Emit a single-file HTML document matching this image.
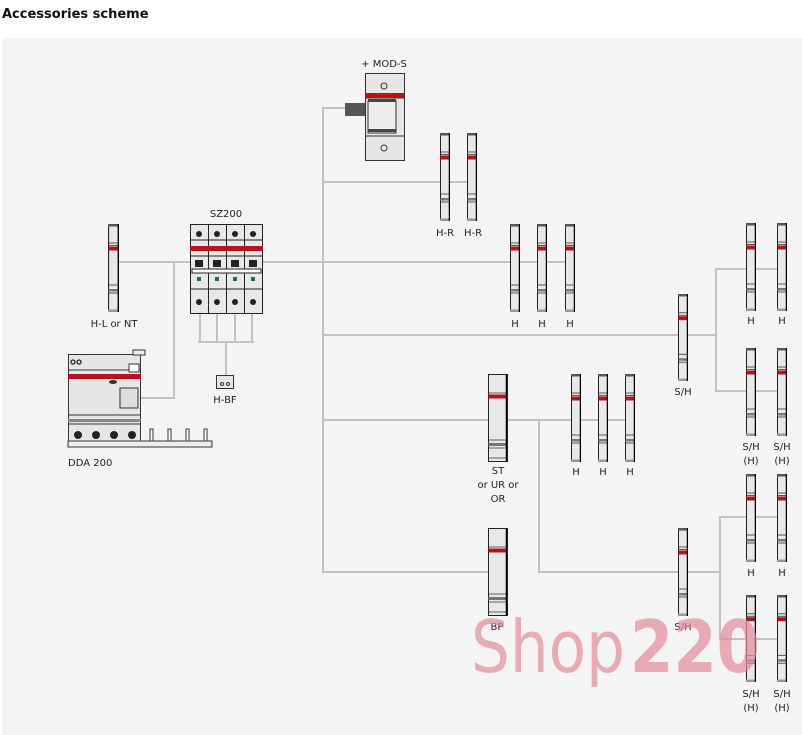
<!DOCTYPE html>
<html><head><meta charset="utf-8"><style>
html,body{margin:0;padding:0;background:#fff;width:802px;height:735px;overflow:hidden}
svg{display:block}
text{font-family:"DejaVu Sans","Liberation Sans",sans-serif;font-size:10px;fill:#222}
</style></head><body>
<svg width="802" height="735" viewBox="0 0 802 735">
<defs>
<symbol id="m" viewBox="0 0 10 88" preserveAspectRatio="none">
<rect x="0.5" y="0.5" width="9" height="87" fill="#e8e8e8" stroke="#222" stroke-width="1"/>
<rect x="0" y="0" width="10" height="2.5" fill="#555"/>
<rect x="0" y="85.5" width="10" height="2.5" fill="#999"/>
<line x1="0" y1="19" x2="10" y2="19" stroke="#333" stroke-width="0.8"/>
<line x1="0" y1="21.5" x2="10" y2="21.5" stroke="#333" stroke-width="0.8"/>
<rect x="0.5" y="22.5" width="9" height="4" fill="#b5121b"/>
<line x1="0" y1="61" x2="10" y2="61" stroke="#333" stroke-width="0.8"/>
<rect x="0.5" y="65" width="9" height="2.5" fill="#777"/>
<line x1="0" y1="69" x2="10" y2="69" stroke="#333" stroke-width="0.8"/>
<line x1="9.5" y1="0" x2="9.5" y2="88" stroke="#000" stroke-width="1.5"/>
</symbol>
<symbol id="w" viewBox="0 0 20 88" preserveAspectRatio="none">
<rect x="0.5" y="0.5" width="19" height="87" fill="#e8e8e8" stroke="#222" stroke-width="1"/>
<line x1="0" y1="19" x2="20" y2="19" stroke="#333" stroke-width="0.8"/>
<rect x="0.5" y="20.5" width="19" height="4" fill="#b5121b"/>
<line x1="0" y1="66" x2="20" y2="66" stroke="#333" stroke-width="0.8"/>
<rect x="0.5" y="69" width="19" height="3" fill="#777"/>
<line x1="0" y1="74" x2="20" y2="74" stroke="#333" stroke-width="0.8"/>
<line x1="0" y1="84" x2="20" y2="84" stroke="#333" stroke-width="0.8"/>
<line x1="18.5" y1="0" x2="18.5" y2="88" stroke="#000" stroke-width="1.5"/>
</symbol>
</defs>
<text x="2" y="18" style="font-family:'DejaVu Sans',sans-serif;font-size:13px;font-weight:bold;fill:#111">Accessories scheme</text>
<rect x="2" y="38" width="800" height="697" fill="#f4f4f4"/>

<g stroke="#c2c2c2" stroke-width="2" fill="none">
<polyline points="345,108 323,108 323,572 490,572"/>
<line x1="323" y1="182" x2="470" y2="182"/>
<line x1="118" y1="262" x2="575" y2="262"/>
<polyline points="174,262 174,398 141,398"/>
<line x1="323" y1="335" x2="716" y2="335"/>
<polyline points="785,269 716,269 716,391 785,391"/>
<line x1="323" y1="420" x2="635" y2="420"/>
<polyline points="539,420 539,572 720,572"/>
<polyline points="785,517 720,517 720,639 785,639"/>
<line x1="200" y1="313" x2="200" y2="342"/>
<line x1="217" y1="313" x2="217" y2="342"/>
<line x1="235" y1="313" x2="235" y2="342"/>
<line x1="252" y1="313" x2="252" y2="342"/>
<line x1="198" y1="342" x2="254" y2="342"/>
<line x1="226" y1="342" x2="226" y2="376"/>
</g>

<!-- modules -->
<use href="#m" x="108" y="224" width="11" height="88"/>
<use href="#m" x="440" y="133" width="10" height="88"/>
<use href="#m" x="467" y="133" width="10" height="88"/>
<use href="#m" x="510" y="224" width="10" height="88"/>
<use href="#m" x="537" y="224" width="10" height="88"/>
<use href="#m" x="565" y="224" width="10" height="88"/>
<use href="#m" x="746" y="223" width="10" height="88"/>
<use href="#m" x="777" y="223" width="10" height="88"/>
<use href="#m" x="678" y="294" width="10" height="87"/>
<use href="#m" x="746" y="348" width="10" height="88"/>
<use href="#m" x="777" y="348" width="10" height="88"/>
<use href="#m" x="571" y="374" width="10" height="88"/>
<use href="#m" x="598" y="374" width="10" height="88"/>
<use href="#m" x="625" y="374" width="10" height="88"/>
<use href="#w" x="488" y="374" width="20" height="88"/>
<use href="#w" x="488" y="528" width="20" height="88"/>
<use href="#m" x="678" y="528" width="10" height="88"/>
<use href="#m" x="746" y="474" width="10" height="88"/>
<use href="#m" x="777" y="474" width="10" height="88"/>
<use href="#m" x="746" y="595" width="10" height="87"/>
<use href="#m" x="777" y="595" width="10" height="87"/>

<!-- MOD-S -->
<rect x="345" y="103" width="20" height="13" fill="#555"/>
<rect x="365.5" y="73.5" width="39" height="87" fill="#e6e6e6" stroke="#333"/>
<line x1="365" y1="98" x2="405" y2="98" stroke="#333"/>
<line x1="365" y1="136" x2="405" y2="136" stroke="#333"/>
<rect x="365.5" y="93" width="39" height="5" fill="#b5121b"/>
<rect x="368" y="101" width="28" height="32" fill="#eee" stroke="#333"/>
<rect x="368" y="99" width="28" height="3" fill="#444"/>
<rect x="368" y="129" width="28" height="3" fill="#444"/>
<circle cx="384" cy="86" r="3" fill="none" stroke="#333"/>
<circle cx="384" cy="148" r="3" fill="none" stroke="#333"/>

<!-- SZ200 -->
<g stroke="#222" stroke-width="1">
<rect x="190.5" y="224.5" width="72" height="89" fill="#e8e8e8"/>
<line x1="208.5" y1="224" x2="208.5" y2="313"/><line x1="226.5" y1="224" x2="226.5" y2="313"/><line x1="244.5" y1="224" x2="244.5" y2="313"/>
<line x1="190" y1="240" x2="263" y2="240"/>
<line x1="190" y1="256" x2="263" y2="256"/>
<line x1="190" y1="289" x2="263" y2="289"/>
<rect x="192" y="269" width="69" height="4" fill="#fff"/>
</g>
<rect x="190" y="246" width="73" height="5" fill="#b5121b"/>
<g fill="#222">
<circle cx="199" cy="234" r="3"/><circle cx="217" cy="234" r="3"/><circle cx="235" cy="234" r="3"/><circle cx="253" cy="234" r="3"/>
<circle cx="199" cy="302" r="3"/><circle cx="217" cy="302" r="3"/><circle cx="235" cy="302" r="3"/><circle cx="253" cy="302" r="3"/>
<rect x="195" y="260" width="8" height="7"/><rect x="213" y="260" width="8" height="7"/><rect x="231" y="260" width="8" height="7"/><rect x="249" y="260" width="8" height="7"/>
</g>
<g fill="#2e6b3a"><rect x="197" y="277" width="4" height="4"/><rect x="215" y="277" width="4" height="4"/><rect x="233" y="277" width="4" height="4"/><rect x="251" y="277" width="4" height="4"/></g>

<!-- H-BF -->
<rect x="216.5" y="375.5" width="17" height="13" fill="#e6e6e6" stroke="#333"/>
<circle cx="222" cy="384" r="1.5" fill="none" stroke="#333"/><circle cx="228" cy="384" r="1.5" fill="none" stroke="#333"/>

<!-- DDA 200 -->
<rect x="68.5" y="354.5" width="72" height="87" fill="#e6e6e6" stroke="#333"/>
<rect x="68" y="441" width="144" height="6" fill="#eee" stroke="#333"/>
<rect x="68" y="374" width="73" height="5" fill="#b5121b"/>
<line x1="68" y1="370" x2="141" y2="370" stroke="#333"/>
<line x1="68" y1="415" x2="141" y2="415" stroke="#333"/>
<rect x="68" y="419" width="73" height="3" fill="#888"/>
<line x1="68" y1="424" x2="141" y2="424" stroke="#333"/>
<rect x="129" y="364" width="10" height="8" fill="#fff" stroke="#333"/>
<rect x="120" y="388" width="18" height="20" fill="#ddd" stroke="#333"/>
<rect x="133" y="350" width="12" height="5" fill="#eee" stroke="#333"/>
<circle cx="73" cy="362" r="2" fill="none" stroke="#222" stroke-width="1.3"/><circle cx="79" cy="362" r="2" fill="none" stroke="#222" stroke-width="1.3"/>
<ellipse cx="113" cy="382" rx="4" ry="2" fill="#333"/>
<g fill="#222"><circle cx="78" cy="435" r="4"/><circle cx="96" cy="435" r="4"/><circle cx="114" cy="435" r="4"/><circle cx="132" cy="435" r="4"/></g>
<g fill="#fff" stroke="#333"><rect x="150" y="429" width="3" height="12"/><rect x="168" y="429" width="3" height="12"/><rect x="186" y="429" width="3" height="12"/><rect x="204" y="429" width="3" height="12"/></g>

<!-- labels -->
<g text-anchor="middle">
<text x="384" y="67">+ MOD-S</text>
<text x="226" y="217">SZ200</text>
<text x="114" y="327">H-L or NT</text>
<text x="225" y="403">H-BF</text>
<text x="445" y="236">H-R</text><text x="473" y="236">H-R</text>
<text x="515" y="327">H</text><text x="542" y="327">H</text><text x="570" y="327">H</text>
<text x="751" y="324">H</text><text x="782" y="324">H</text>
<text x="683" y="395">S/H</text>
<text x="751" y="450">S/H</text><text x="782" y="450">S/H</text>
<text x="751" y="464">(H)</text><text x="782" y="464">(H)</text>
<text x="576" y="475">H</text><text x="603" y="475">H</text><text x="630" y="475">H</text>
<text x="498" y="474">ST</text><text x="498" y="488">or UR or</text><text x="498" y="502">OR</text>
<text x="751" y="576">H</text><text x="782" y="576">H</text>
<text x="497" y="630">BP</text><text x="683" y="630">S/H</text>
<text x="751" y="697">S/H</text><text x="782" y="697">S/H</text>
<text x="751" y="711">(H)</text><text x="782" y="711">(H)</text>
</g>
<text x="68" y="466">DDA 200</text>

<text x="471" y="672" style="font-size:72px;fill:#e28a98;fill-opacity:0.7" textLength="154" lengthAdjust="spacingAndGlyphs">Shop</text>
<text x="630" y="672" style="font-size:72px;font-weight:bold;fill:#e28a98;fill-opacity:0.7" textLength="130" lengthAdjust="spacingAndGlyphs">220</text>
</svg>
</body></html>
